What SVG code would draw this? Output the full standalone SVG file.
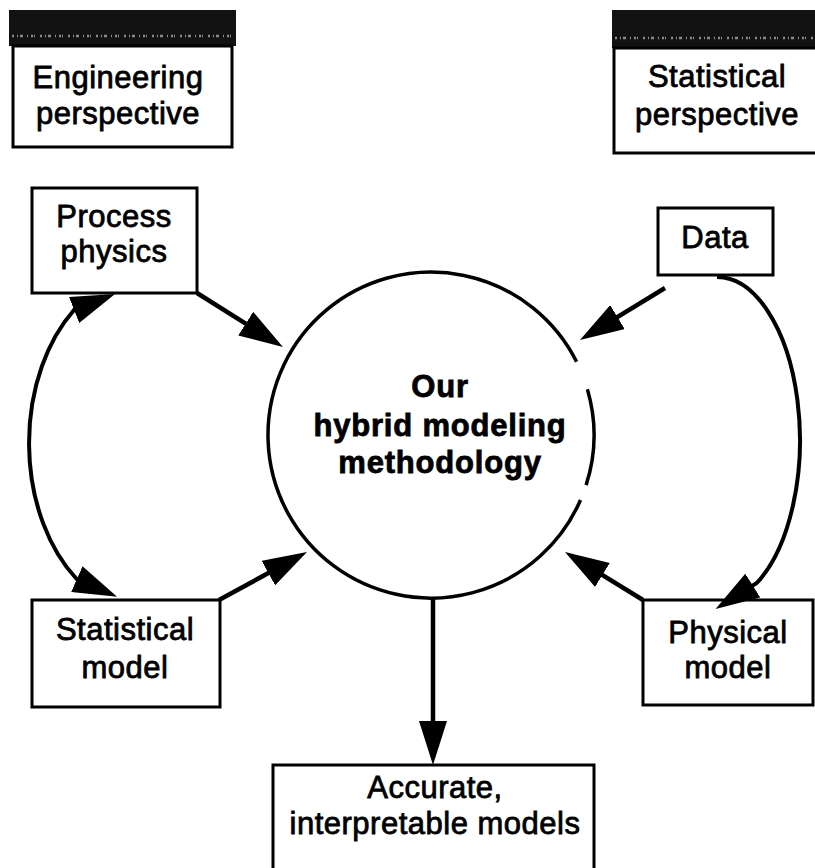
<svg xmlns="http://www.w3.org/2000/svg" width="815" height="868" viewBox="0 0 815 868">
  <style>
    .box { fill: #ffffff; stroke: #000000; stroke-width: 3; }
    .band { fill: #121212; }
    .speck { fill: none; stroke: #8a8a8a; stroke-width: 2.5; stroke-dasharray: 2 3 1 2 3 4 1 3 2 1 1 5; }
    .lbl { font-family: "Liberation Sans", Arial, Helvetica, sans-serif; font-size: 31px; letter-spacing: 0.5px; fill: #000000; stroke: #000000; stroke-width: 0.8; text-anchor: middle; }
    .bold { font-family: "Liberation Sans", Arial, Helvetica, sans-serif; font-size: 31px; font-weight: bold; letter-spacing: 0.8px; fill: #000000; stroke: #000000; stroke-width: 0.8; text-anchor: middle; }
    .conn { fill: none; stroke: #000000; stroke-width: 4.5; }
    .arc { fill: none; stroke: #000000; stroke-width: 4; }
    .ring { fill: none; stroke: #000000; stroke-width: 3.5; }
  </style>
  <defs>
    <marker id="ah" markerUnits="userSpaceOnUse" viewBox="0 0 44 28" markerWidth="44" markerHeight="28" refX="30" refY="14" orient="auto-start-reverse">
      <path d="M0,0 L44,14 L0,28 Z" fill="#000000"/>
    </marker>
  </defs>
  <rect x="0" y="0" width="815" height="868" fill="#ffffff"/>

  <g id="engineering-perspective">
    <rect class="band" x="9" y="10" width="227" height="36"/>
    <line class="speck" x1="12" y1="36" x2="233" y2="36"/>
    <rect class="box" x="13" y="46" width="219" height="101"/>
    <text class="lbl" x="118" y="88">Engineering</text>
    <text class="lbl" x="118" y="124">perspective</text>
  </g>

  <g id="statistical-perspective">
    <rect class="band" x="612" y="10" width="210" height="38"/>
    <line class="speck" x1="615" y1="38" x2="815" y2="38"/>
    <rect class="box" x="614" y="48" width="210" height="105"/>
    <text class="lbl" x="717" y="87">Statistical</text>
    <text class="lbl" x="717" y="125">perspective</text>
  </g>

  <g id="process-physics">
    <rect class="box" x="32" y="188" width="165" height="105"/>
    <text class="lbl" x="114" y="227">Process</text>
    <text class="lbl" x="114" y="262">physics</text>
  </g>

  <g id="data">
    <rect class="box" x="658" y="208" width="115" height="67"/>
    <text class="lbl" x="715" y="248">Data</text>
  </g>

  <g id="hybrid-methodology">
    <path class="ring" d="M587.4,389.2 A163,163 0 0 1 586.1,485.1 M580.5,500 A163,163 0 1 1 576.6,361.8"/>
    <text class="bold" x="440" y="397">Our</text>
    <text class="bold" x="440" y="436">hybrid modeling</text>
    <text class="bold" x="440" y="473">methodology</text>
  </g>

  <g id="statistical-model">
    <rect class="box" x="32" y="600" width="188" height="107"/>
    <text class="lbl" x="125" y="640">Statistical</text>
    <text class="lbl" x="125" y="678">model</text>
  </g>

  <g id="physical-model">
    <rect class="box" x="643" y="600" width="170" height="105"/>
    <text class="lbl" x="728" y="643">Physical</text>
    <text class="lbl" x="728" y="678">model</text>
  </g>

  <g id="accurate-models">
    <rect class="box" x="273" y="765" width="321" height="120"/>
    <text class="lbl" x="435" y="798">Accurate,</text>
    <text class="lbl" x="435" y="834">interpretable models</text>
  </g>

  <g id="connectors">
    <line class="conn" x1="197" y1="293" x2="271.1" y2="339.6" marker-end="url(#ah)"/>
    <line class="conn" x1="219" y1="600" x2="294.7" y2="558.7" marker-end="url(#ah)"/>
    <line class="conn" x1="643" y1="600" x2="576.9" y2="559.3" marker-end="url(#ah)"/>
    <line class="conn" x1="665" y1="288" x2="591.9" y2="332.7" marker-end="url(#ah)"/>
    <line class="conn" x1="433" y1="597" x2="433" y2="751" marker-end="url(#ah)"/>
    <path class="arc" d="M102,299 L74,310 A119,170 0 0 0 76.6,579 L104.3,591.2" marker-start="url(#ah)" marker-end="url(#ah)"/>
    <path class="arc" d="M717,277 A83,163 0 0 1 756.8,583 L727.4,601.5" marker-end="url(#ah)"/>
  </g>
</svg>
